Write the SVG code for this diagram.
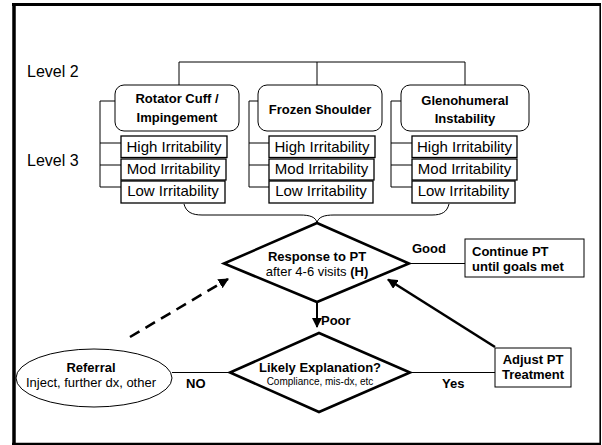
<svg xmlns="http://www.w3.org/2000/svg" width="602" height="445" viewBox="0 0 602 445">
  <defs>
    <marker id="arr" viewBox="0 0 10 10" refX="9" refY="5" markerWidth="4" markerHeight="4" orient="auto" markerUnits="strokeWidth">
      <path d="M0,0 L10,5 L0,10 z" fill="#000"/>
    </marker>
    <marker id="arrS" viewBox="0 0 10 10" refX="9" refY="5" markerWidth="5" markerHeight="5" orient="auto" markerUnits="strokeWidth">
      <path d="M0,0 L10,5 L0,10 z" fill="#000"/>
    </marker>
  </defs>
  <style>
    text { font-family: "Liberation Sans", Arial, sans-serif; fill: #000; }
    .lvl { font-size: 16px; }
    .hd { font-size: 13px; font-weight: bold; text-anchor: middle; }
    .irr { font-size: 15px; text-anchor: middle; }
    .b13 { font-size: 13px; font-weight: bold; }
    .n13 { font-size: 13px; }
    .small { font-size: 10px; text-anchor: middle; }
    .thin { fill: none; stroke: #000; stroke-width: 1; }
    .rbox { fill: #fff; stroke: #000; stroke-width: 1; }
    .ibox { fill: #fff; stroke: #000; stroke-width: 1.3; }
    .dia { fill: #fff; stroke: #000; stroke-width: 2.6; stroke-linejoin: miter; }
    .thick { fill: none; stroke: #000; stroke-width: 2.6; }
  </style>

  <rect x="0" y="0" width="602" height="445" fill="#fff"/>

  <!-- page frame -->
  <g id="frame" stroke="#000" fill="none">
    <line x1="12" y1="4.5" x2="601" y2="4.5" stroke-width="3"/>
    <line x1="14" y1="3" x2="14" y2="445" stroke-width="3.5"/>
    <line x1="600.2" y1="3" x2="600.2" y2="445" stroke-width="1.6"/>
    <line x1="12" y1="444" x2="601" y2="444" stroke-width="2.5"/>
  </g>

  <!-- level labels -->
  <text class="lvl" x="27" y="77">Level 2</text>
  <text class="lvl" x="27" y="166">Level 3</text>

  <!-- connectors -->
  <g id="connectors">
    <!-- top tree -->
    <path class="thin" d="M179,85 V62 H465 V85 M317,62 V85"/>
    <!-- side brackets -->
    <path class="thin" d="M115,101 H100 V187 H121 M100,143 H121 M100,165 H121"/>
    <path class="thin" d="M258,101 H249 V187 H269 M249,143 H269 M249,165 H269"/>
    <path class="thin" d="M405,101 H391 V187 H412 M391,143 H412 M391,165 H412"/>
    <!-- brace -->
    <path class="thin" d="M184,204 C186,212 192,215 202,215 H300 C310,215 316,217 317,223 C318,217 324,215 334,215 H432 C442,215 447,212 449,204"/>
    <!-- Good -->
    <line class="thin" x1="409" y1="263.5" x2="465" y2="263.5"/>
    <!-- Poor -->
    <line x1="317" y1="302" x2="317" y2="327" stroke="#000" stroke-width="2" marker-end="url(#arrS)"/>
    <!-- NO -->
    <line class="thin" x1="172" y1="372.5" x2="230" y2="372.5"/>
    <!-- Yes -->
    <line class="thin" x1="410" y1="372.5" x2="495" y2="372.5"/>
    <!-- Adjust back to response -->
    <line class="thick" x1="495" y1="347" x2="388" y2="279.5" marker-end="url(#arr)"/>
    <!-- Referral dashed -->
    <line class="thick" x1="130" y1="337" x2="228" y2="279" stroke-dasharray="11,7" marker-end="url(#arr)"/>
  </g>

  <!-- Level 2 categories -->
  <g id="rotator">
    <rect class="rbox" x="115" y="85" width="124" height="46" rx="9"/>
    <text class="hd" x="177" y="103">Rotator Cuff /</text>
    <text class="hd" x="177" y="122">Impingement</text>
  </g>
  <g id="frozen">
    <rect class="rbox" x="258" y="85" width="124" height="46" rx="9"/>
    <text class="hd" x="320" y="114">Frozen Shoulder</text>
  </g>
  <g id="gleno">
    <rect class="rbox" x="401" y="85" width="128" height="46" rx="9"/>
    <text class="hd" x="465" y="105">Glenohumeral</text>
    <text class="hd" x="465" y="123">Instability</text>
  </g>

  <!-- Level 3 irritability boxes -->
  <g id="rot-high"><rect class="ibox" x="121" y="136" width="106" height="21.5"/><text class="irr" x="174" y="152">High Irritability</text></g>
  <g id="rot-mod"><rect class="ibox" x="121" y="159" width="105" height="21"/><text class="irr" x="173.5" y="174">Mod Irritability</text></g>
  <g id="rot-low"><rect class="ibox" x="121" y="181" width="104" height="22"/><text class="irr" x="173" y="196">Low Irritability</text></g>

  <g id="fro-high"><rect class="ibox" x="269" y="136" width="106" height="21.5"/><text class="irr" x="322" y="152">High Irritability</text></g>
  <g id="fro-mod"><rect class="ibox" x="269" y="159" width="105" height="21"/><text class="irr" x="321.5" y="174">Mod Irritability</text></g>
  <g id="fro-low"><rect class="ibox" x="269" y="181" width="104" height="22"/><text class="irr" x="321" y="196">Low Irritability</text></g>

  <g id="gle-high"><rect class="ibox" x="412" y="136" width="105" height="21.5"/><text class="irr" x="464.5" y="152">High Irritability</text></g>
  <g id="gle-mod"><rect class="ibox" x="412" y="159" width="105" height="21"/><text class="irr" x="464.5" y="174">Mod Irritability</text></g>
  <g id="gle-low"><rect class="ibox" x="412" y="181" width="103" height="22"/><text class="irr" x="463.5" y="196">Low Irritability</text></g>

  <!-- decision: response to PT -->
  <g id="response">
    <polygon class="dia" points="317,223 409,263.5 317,302 224,263.5"/>
    <text class="b13" x="317" y="261" text-anchor="middle">Response to PT</text>
    <text class="n13" x="317" y="276" text-anchor="middle">after 4-6 visits <tspan font-weight="bold">(H)</tspan></text>
  </g>

  <g id="continue">
    <rect class="rbox" x="465" y="239" width="119" height="38" rx="0"/>
    <text class="b13" x="472" y="256">Continue PT</text>
    <text class="b13" x="472" y="271">until goals met</text>
  </g>

  <!-- decision: likely explanation -->
  <g id="explanation">
    <polygon class="dia" points="319,333 410,372.5 319,412 230,372.5"/>
    <text class="b13" x="320" y="372" text-anchor="middle">Likely Explanation?</text>
    <text class="small" x="320" y="385">Compliance, mis-dx, etc</text>
  </g>

  <g id="referral">
    <ellipse cx="94" cy="378" rx="78" ry="29" fill="#fff" stroke="#000" stroke-width="1"/>
    <text class="b13" x="91" y="372" text-anchor="middle">Referral</text>
    <text class="n13" x="91" y="387" text-anchor="middle">Inject, further dx, other</text>
  </g>

  <g id="adjust">
    <rect class="rbox" x="495" y="348" width="76" height="39"/>
    <text class="b13" x="533" y="364" text-anchor="middle">Adjust PT</text>
    <text class="b13" x="533" y="379" text-anchor="middle">Treatment</text>
  </g>

  <!-- edge labels -->
  <text class="b13" x="412" y="253">Good</text>
  <text class="b13" x="321" y="325">Poor</text>
  <text class="b13" x="186" y="388">NO</text>
  <text class="b13" x="442" y="388">Yes</text>
</svg>
